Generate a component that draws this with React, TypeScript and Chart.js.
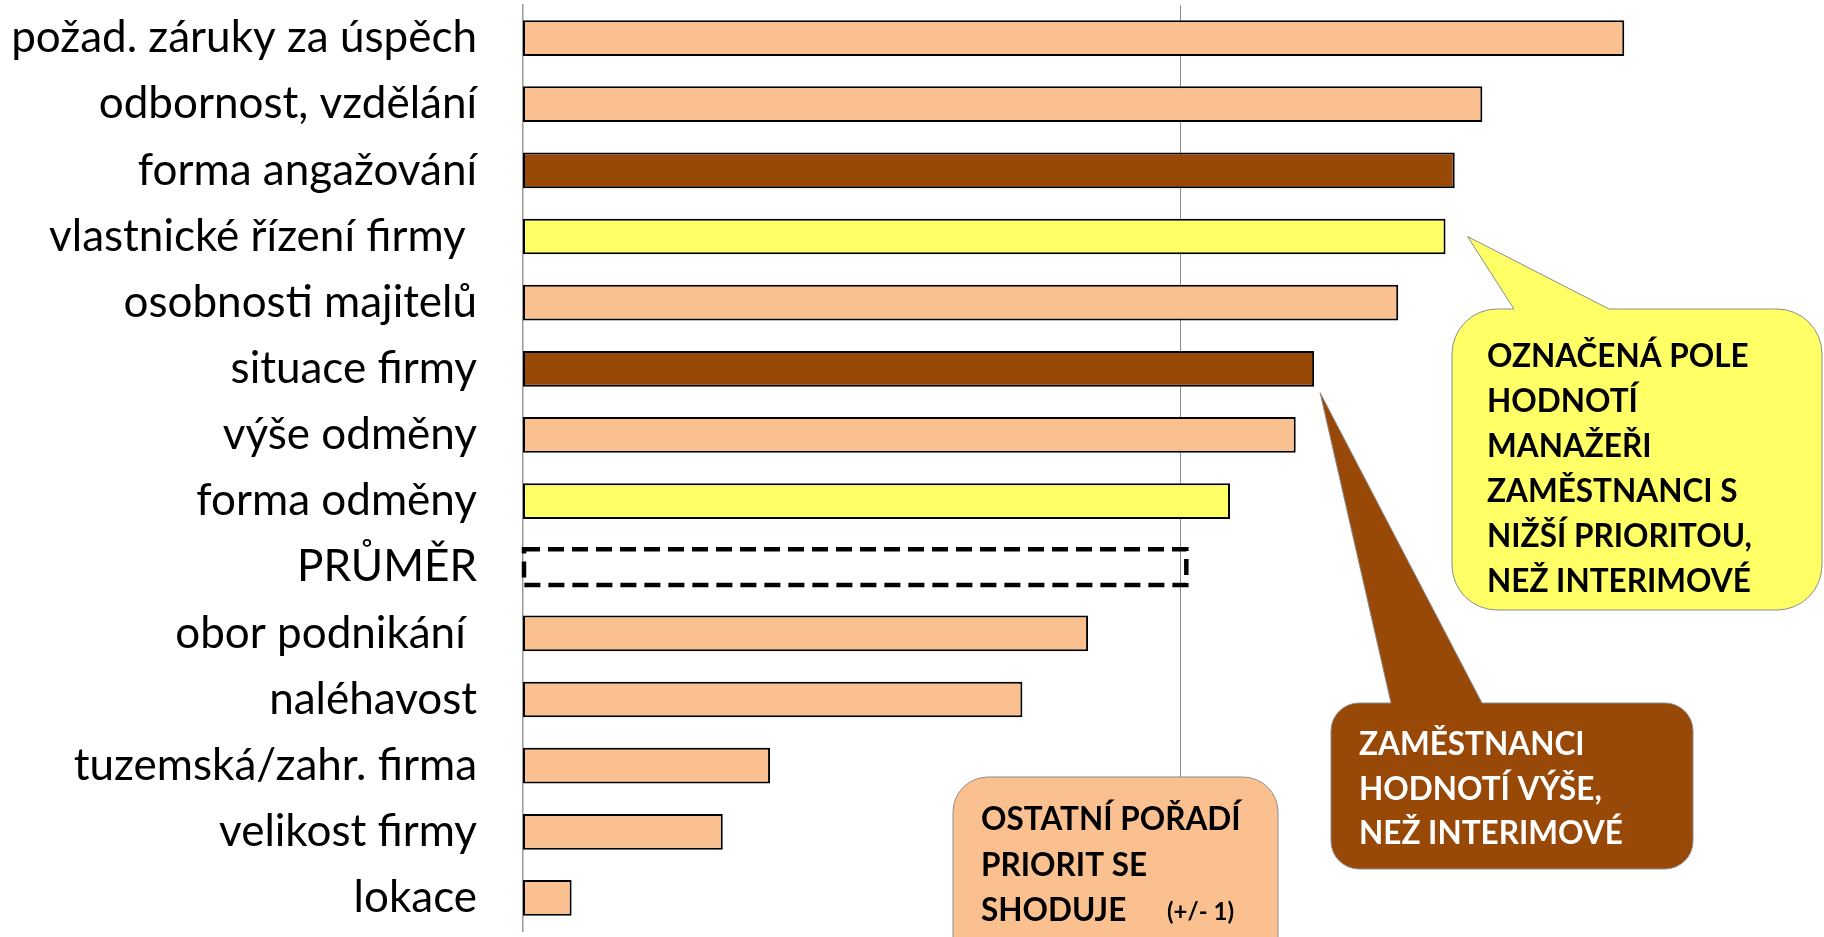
import React, { useEffect, useRef } from "react";
import { Chart, registerables } from "chart.js";

Chart.register(...registerables);

// ---- data ----
const categories = [
  "požad. záruky za úspěch",
  "odbornost, vzdělání",
  "forma angažování",
  "vlastnické řízení firmy ",
  "osobnosti majitelů",
  "situace firmy",
  "výše odměny",
  "forma odměny",
  "PRŮMĚR",
  "obor podnikání ",
  "naléhavost",
  "tuzemská/zahr. firma",
  "velikost firmy",
  "lokace",
];
const values = [8.38, 7.3, 7.09, 7.02, 6.66, 6.02, 5.88, 5.38, 5.04, 4.3, 3.8, 1.88, 1.52, 0.37];
// group: same = same order, higher = employees rate higher, lower = managers rate lower, avg = average
const groups = ["same", "same", "higher", "lower", "same", "higher", "same", "lower", "avg", "same", "same", "same", "same", "same"];
const gridTicks = [5];

const yellowLines = ["OZNAČENÁ POLE", "HODNOTÍ", "MANAŽEŘI", "ZAMĚSTNANCI S", "NIŽŠÍ PRIORITOU,", "NEŽ INTERIMOVÉ"];
const brownLines = ["ZAMĚSTNANCI", "HODNOTÍ VÝŠE,", "NEŽ INTERIMOVÉ"];
const orangeLines = ["OSTATNÍ POŘADÍ", "PRIORIT SE", "SHODUJE"];
const orangeNote = "(+/- 1)";

const PEACH = "#FAC090";
const YELLOW = "#FFFF66";
const BROWN = "#984807";
const colorOf: Record<string, string> = { same: PEACH, higher: BROWN, lower: YELLOW, avg: "rgba(0,0,0,0)" };

function callout(
  ctx: CanvasRenderingContext2D,
  x: number, y: number, w: number, h: number, r: number,
  wedge: { b1: number; b2: number; tx: number; ty: number } | null,
  fill: string
) {
  ctx.beginPath();
  ctx.moveTo(x + r, y);
  if (wedge) {
    ctx.lineTo(wedge.b1, y);
    ctx.lineTo(wedge.tx, wedge.ty);
    ctx.lineTo(wedge.b2, y);
  }
  ctx.lineTo(x + w - r, y);
  ctx.arcTo(x + w, y, x + w, y + r, r);
  ctx.lineTo(x + w, y + h - r);
  ctx.arcTo(x + w, y + h, x + w - r, y + h, r);
  ctx.lineTo(x + r, y + h);
  ctx.arcTo(x, y + h, x, y + h - r, r);
  ctx.lineTo(x, y + r);
  ctx.arcTo(x, y, x + r, y, r);
  ctx.closePath();
  ctx.fillStyle = fill;
  ctx.fill();
  ctx.strokeStyle = "#8c8c8c";
  ctx.lineWidth = 1;
  ctx.stroke();
}

const overlayPlugin = {
  id: "overlay",
  afterDatasetsDraw(chart: any) {
    const ctx: CanvasRenderingContext2D = chart.ctx;
    const meta = chart.getDatasetMeta(0);
    const avgIdx = groups.indexOf("avg");
    const el = meta.data[avgIdx];
    if (el) {
      const p = el.getProps(["x", "y", "base", "height"], true);
      ctx.save();
      ctx.setLineDash([16, 8]);
      ctx.lineWidth = 4.5;
      ctx.strokeStyle = "#000";
      ctx.strokeRect(p.base + 1, p.y - p.height / 2, p.x - p.base, p.height);
      ctx.restore();
    }
  },
  afterDraw(chart: any) {
    const ctx: CanvasRenderingContext2D = chart.ctx;
    const meta = chart.getDatasetMeta(0);
    const yEl = meta.data[3].getProps(["x", "y", "height"], true);
    const bEl = meta.data[5].getProps(["x", "y", "height"], true);
    ctx.save();
    callout(ctx, 1452, 309, 370, 301, 45, { b1: 1514, b2: 1609, tx: yEl.x + 22, ty: yEl.y }, YELLOW);
    callout(ctx, 1331, 703, 362, 166, 28, { b1: 1391, b2: 1482, tx: bEl.x + 6, ty: bEl.y + bEl.height / 2 + 6 }, BROWN);
    callout(ctx, 953, 777, 325, 200, 35, null, PEACH);

    ctx.textAlign = "left";
    ctx.textBaseline = "middle";
    ctx.font = "bold 31.5px Lato";
    ctx.fillStyle = "#000";
    yellowLines.forEach((t, i) => ctx.fillText(t, 1487, 357 + i * 45));
    ctx.fillStyle = "#fff";
    brownLines.forEach((t, i) => ctx.fillText(t, 1359, 745 + i * 44.5));
    ctx.fillStyle = "#000";
    orangeLines.forEach((t, i) => ctx.fillText(t, 981, 820 + i * 45.5));
    ctx.font = "bold 24px Lato";
    ctx.fillText(orangeNote, 1167, 912);
    ctx.restore();
  },
};

export default function App() {
  const ref = useRef<HTMLCanvasElement>(null);
  useEffect(() => {
    if (!ref.current) return;
    const chart = new Chart(ref.current, {
      type: "bar",
      data: {
        labels: categories,
        datasets: [
          {
            data: values,
            backgroundColor: groups.map((g) => colorOf[g]),
            borderColor: groups.map((g) => (g === "avg" ? "rgba(0,0,0,0)" : "#000")),
            borderWidth: 2,
            borderSkipped: false,
            barPercentage: 0.54,
            categoryPercentage: 1,
          },
        ],
      },
      options: {
        indexAxis: "y",
        animation: false,
        responsive: false,
        maintainAspectRatio: false,
        layout: { padding: { top: 5, bottom: 6, left: 0, right: 0 } },
        plugins: { legend: { display: false }, tooltip: { enabled: false } },
        scales: {
          x: {
            min: 0,
            max: 9.9,
            afterBuildTicks: (scale: any) => {
              scale.ticks = gridTicks.map((v) => ({ value: v }));
            },
            afterFit: (scale: any) => {
              scale.height = 0;
              scale.paddingLeft = 0;
              scale.paddingRight = 0;
            },
            ticks: { display: false },
            grid: { color: "#8c8c8c", lineWidth: 1, drawTicks: false },
            border: { display: false },
          },
          y: {
            afterFit: (scale: any) => {
              scale.width = 523;
              scale.paddingTop = 0;
              scale.paddingBottom = 0;
            },
            ticks: {
              padding: 46,
              color: "#000",
              font: { family: "Lato", size: 44 },
            },
            grid: { display: false, drawTicks: false },
            border: { display: true, color: "#9a9a9a", width: 1.5 },
          },
        },
      },
      plugins: [overlayPlugin],
    });
    return () => chart.destroy();
  }, []);
  return (
    <div style={{ position: "absolute", left: 0, top: 0, width: 1824, height: 937, overflow: "hidden", background: "#fff" }}>
      <canvas ref={ref} width={1824} height={937} style={{ width: 1824, height: 937, display: "block" }} />
    </div>
  );
}
